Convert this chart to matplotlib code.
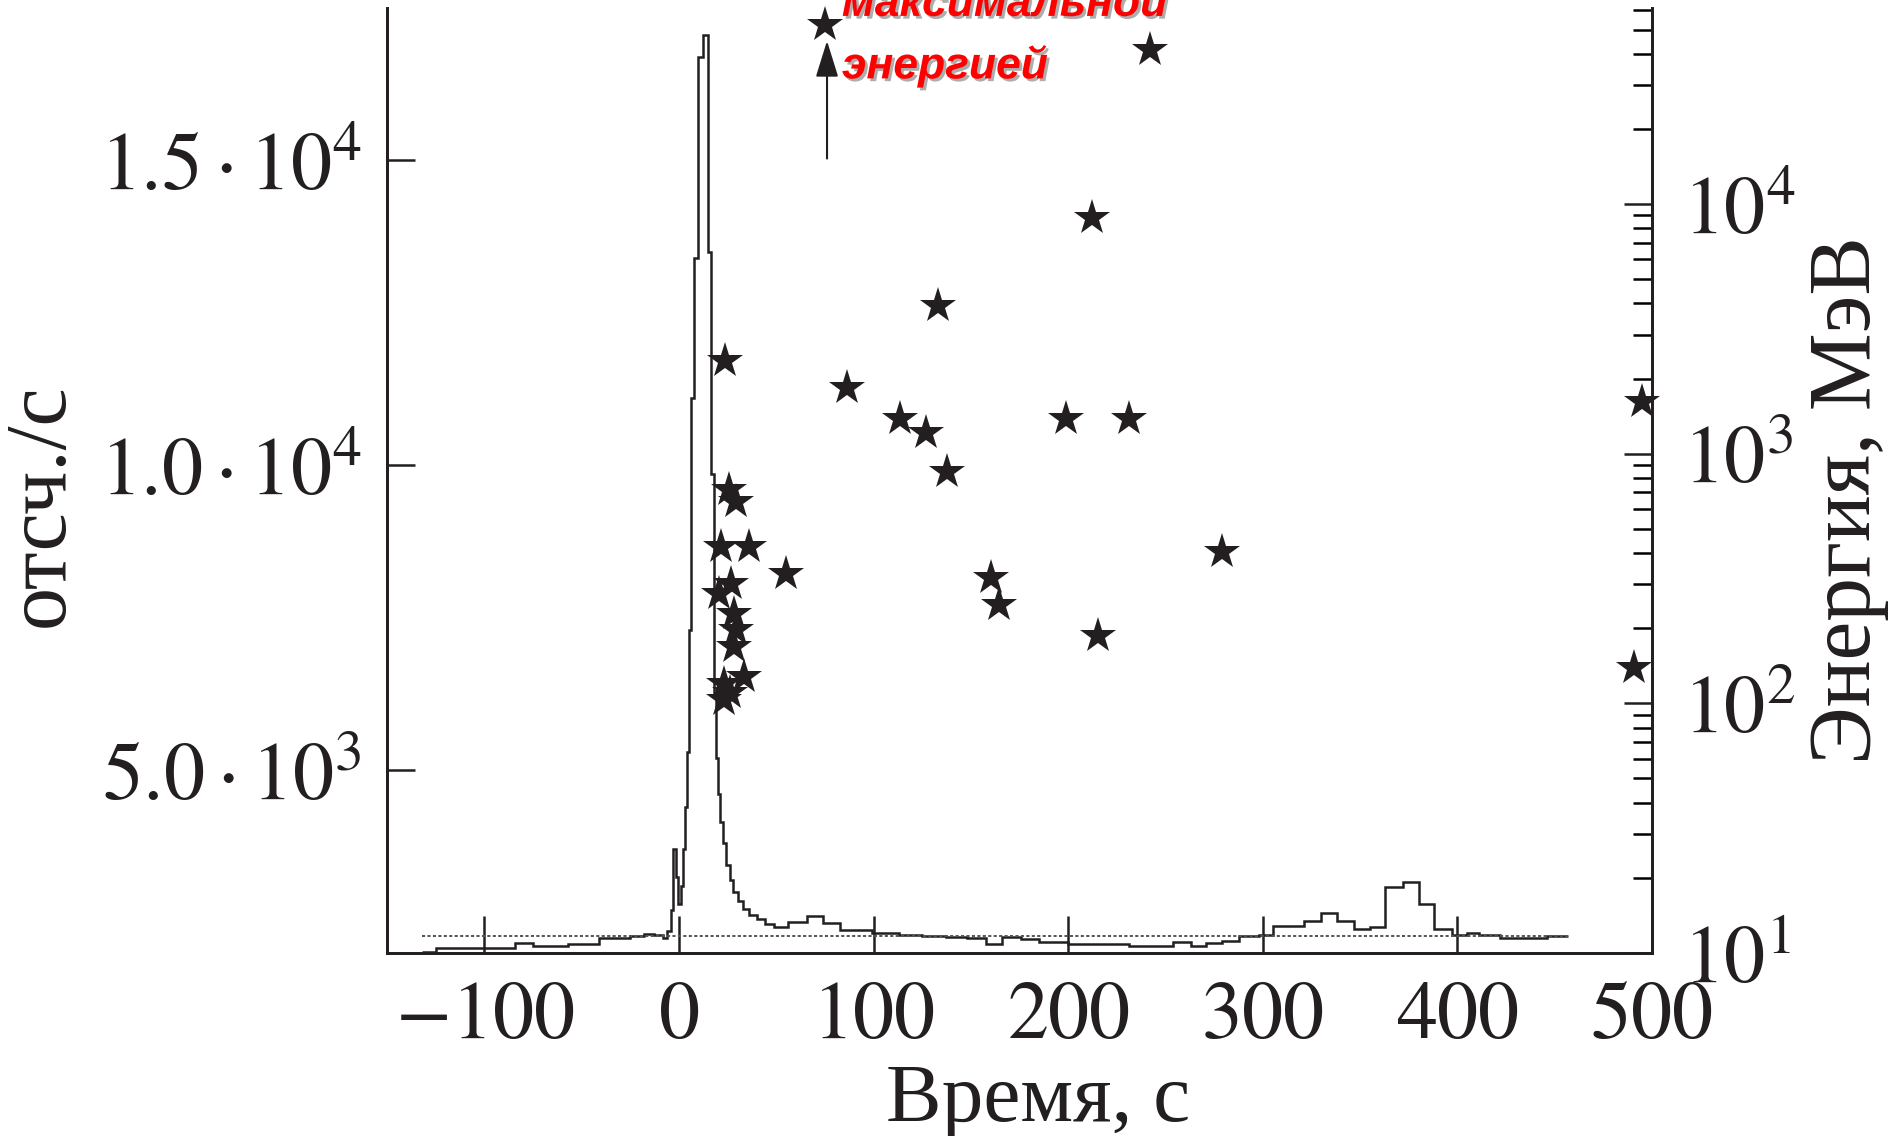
import matplotlib
matplotlib.use("Agg")
import matplotlib.pyplot as plt
import matplotlib.patheffects as pe
from matplotlib import font_manager
from matplotlib.ticker import FixedLocator, FixedFormatter, LogLocator, NullFormatter

# ---- data -------------------------------------------------------------
# count-rate histogram (bin edges in s, counts per s)
bin_edges = [-132, -125, -84, -75, -57, -41, -25, -18, -13, -8, -6, -4, -3, -1.5, -0.5,
             1, 2, 3, 4, 5, 6.2, 7.9, 9.6, 12.2, 15, 16.5, 18, 19, 20, 21, 22.5, 24,
             26, 28, 30.5, 33, 36, 40, 44, 49, 56, 66, 74, 83, 99, 113, 125, 137, 148,
             158, 166, 176, 185, 200, 231, 254, 263, 271, 279, 288, 298, 305, 321, 330,
             338, 347, 355, 363, 372, 380, 388, 397, 405, 411, 422, 446, 457]
bin_counts = [2010, 2090, 2160, 2120, 2150, 2240, 2285, 2310, 2290, 2250, 2360, 2700,
              3700, 3250, 2800, 3100, 3700, 4400, 5300, 7300, 11100, 13400, 16700,
              17050, 13500, 9850, 6200, 5200, 4600, 4150, 3800, 3450, 3200, 3000, 2850,
              2720, 2620, 2550, 2470, 2420, 2510, 2610, 2490, 2380, 2330, 2300, 2280,
              2265, 2250, 2150, 2270, 2230, 2180, 2150, 2115, 2185, 2115, 2170, 2200,
              2275, 2295, 2440, 2530, 2660, 2530, 2390, 2430, 3090, 3170, 2800, 2390,
              2295, 2330, 2295, 2240, 2275]
background_level = 2280
background_span = [-132, 457]

# photon events (time, s ; energy, MeV)
star_t = [75.2, 242.2, 212.4, 132.9, 23.6, 86.3, 113.7, 198.8, 231.1, 126.7, 137.9,
          495.0, 490.7, 278.9, 215.5, 160.2, 164.6, 55.0,
          25.5, 29.3, 21.6, 36.2, 26.7, 20.7, 28.5, 29.3, 28.5, 33.6, 23.3, 23.3, 26.0]
star_e = [51900, 41500, 8750, 3920, 2350, 1840, 1378, 1378, 1378, 1205, 845,
          1610, 139, 405, 186, 317, 248, 330,
          715, 638, 422, 422, 301, 275, 228, 196, 168, 127, 120, 103, 110]

# arrow marking the highest-energy photon
arrow_t = 76.1
arrow_from = 15030
arrow_to = 16960

x_ticks = [-100, 0, 100, 200, 300, 400, 500]
x_ticklabels = [r'$-100$', r'$0$', r'$100$', r'$200$', r'$300$', r'$400$', r'$500$']
y_ticks = [5000, 10000, 15000]
y_ticklabels = [r'$5.0\cdot10^{3}$', r'$1.0\cdot10^{4}$', r'$1.5\cdot10^{4}$']
e_ticks = [10, 100, 1000, 10000]
e_ticklabels = [r'$10^{1}$', r'$10^{2}$', r'$10^{3}$', r'$10^{4}$']

xlabel = 'Время, с'
ylabel = 'отсч./с'
elabel = 'Энергия, МэВ'
note_lines = ['максимальной', 'энергией']

# ---- style ------------------------------------------------------------
plt.rcParams['font.family'] = ['Liberation Serif', 'DejaVu Serif']
plt.rcParams['mathtext.fontset'] = 'stix'
ink = '#231f20'

installed = {f.name for f in font_manager.fontManager.ttflist}
if 'Liberation Sans Narrow' in installed:
    note_family, note_size = 'Liberation Sans Narrow', 40
else:
    note_family, note_size = 'Liberation Sans', 32

fig = plt.figure(figsize=(18.95, 11.36), dpi=100)
ax = fig.add_axes([0.2042, 0.1611, 0.6676, 0.8319])
ax2 = ax.twinx()

ax.stairs(bin_counts, bin_edges, color=ink, lw=1.8, baseline=None)
ax.plot(background_span, [background_level] * 2, color='#555555', lw=1.4,
        linestyle=(0, (1.6, 1.2)))
ax.annotate('', xy=(arrow_t, arrow_to), xytext=(arrow_t, arrow_from),
            arrowprops=dict(arrowstyle='-|>,head_length=0.45,head_width=0.14',
                            mutation_scale=50, lw=1.5, color=ink,
                            shrinkA=0, shrinkB=0))

ax2.plot(star_t, star_e, linestyle='none', marker='*', ms=27, color=ink,
         markeredgewidth=0, clip_on=False, zorder=5)

ax.set_xlim(-150, 500)
ax.set_ylim(2000, 17500)
ax2.set_yscale('log')
ax2.set_ylim(10, 6.1e4)

for a in (ax, ax2):
    a.spines['top'].set_visible(False)
    for s in ('left', 'right', 'bottom'):
        a.spines[s].set_linewidth(2.0)
        a.spines[s].set_color(ink)

ax.xaxis.set_major_locator(FixedLocator(x_ticks))
ax.xaxis.set_major_formatter(FixedFormatter(x_ticklabels))
ax.yaxis.set_major_locator(FixedLocator(y_ticks))
ax.yaxis.set_major_formatter(FixedFormatter(y_ticklabels))
ax.tick_params(axis='x', direction='in', length=27, width=1.8, pad=20,
               labelsize=59, colors=ink, top=False)
ax.tick_params(axis='y', direction='in', length=20, width=1.8, pad=18,
               labelsize=59, colors=ink, right=False)

ax2.yaxis.set_major_locator(FixedLocator(e_ticks))
ax2.yaxis.set_major_formatter(FixedFormatter(e_ticklabels))
ax2.yaxis.set_minor_locator(LogLocator(base=10, subs=range(2, 10)))
ax2.yaxis.set_minor_formatter(NullFormatter())
ax2.tick_params(axis='y', which='major', direction='in', length=20, width=1.8,
                pad=22, labelsize=59, colors=ink)
ax2.tick_params(axis='y', which='minor', direction='in', length=14, width=1.8)

fig.text(0.548, 0.0128, xlabel, ha='center', va='baseline', fontsize=60, color=ink)
fig.text(0.0222, 0.5555, ylabel, ha='center', va='center', rotation=90,
         fontsize=62, color=ink)
fig.text(0.9757, 0.56, elabel, ha='center', va='center', rotation=90,
         fontsize=63, color=ink)

shadow = [pe.withSimplePatchShadow(offset=(2, -2), shadow_rgbFace='#777777', alpha=0.6)]
fig.text(0.4443, 0.986, note_lines[0], color='red', fontsize=note_size, fontweight='bold',
         fontstyle='italic', family=note_family, ha='left', va='baseline',
         path_effects=shadow)
fig.text(0.4443, 0.931, note_lines[1], color='red', fontsize=note_size, fontweight='bold',
         fontstyle='italic', family=note_family, ha='left', va='baseline',
         path_effects=shadow)

fig.savefig('out.png', dpi=100)
